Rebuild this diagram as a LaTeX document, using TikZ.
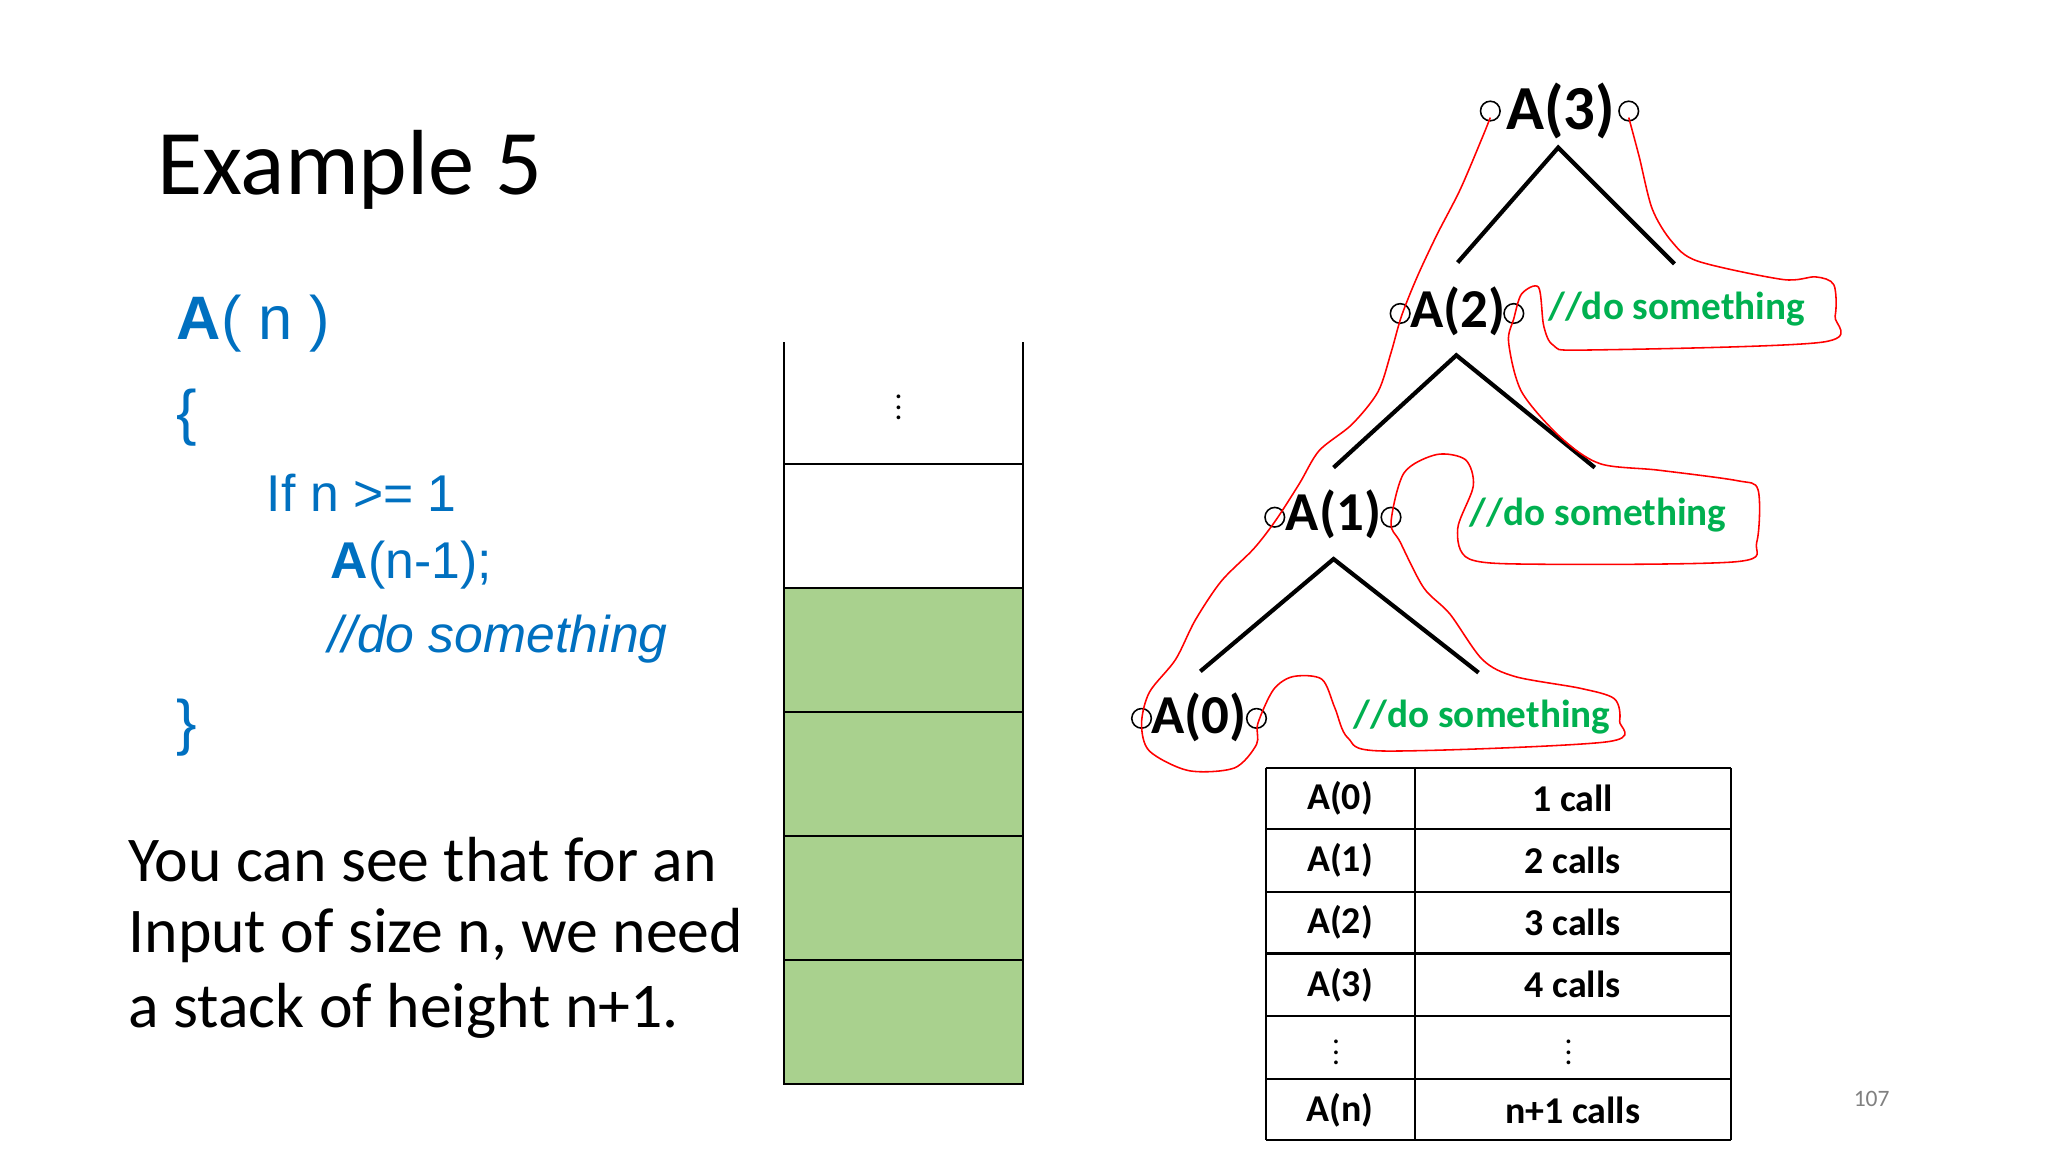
\documentclass[tikz,border=0pt]{standalone}
\usepackage{fontspec}
\setmainfont{Carlito}
\newfontfamily\arialf{Liberation Sans}
\definecolor{codeblue}{RGB}{0,112,192}
\definecolor{dogreen}{RGB}{0,176,80}
\definecolor{stackgreen}{RGB}{169,209,142}
\begin{document}
\begin{tikzpicture}[x=0.5pt,y=-0.5pt,
  code/.style={anchor=west,inner sep=0pt,text=codeblue,font=\arialf\fontsize{19.8}{24}\selectfont},
  big/.style={font=\arialf\fontsize{23.5}{28}\selectfont},
  body/.style={anchor=west,inner sep=0pt,font=\fontsize{24.4}{29}\selectfont},
  tlab/.style={inner sep=0pt,font=\bfseries\fontsize{21}{25}\selectfont},
  dolab/.style={anchor=west,inner sep=0pt,text=dogreen,font=\bfseries\fontsize{15}{18}\selectfont},
  cell/.style={inner sep=0pt,font=\bfseries\fontsize{14.5}{17}\selectfont},
  port/.style={draw,circle,inner sep=0pt,minimum size=7.5pt,line width=0.6pt},
  branch/.style={line width=1.6pt},
  trace/.style={red,line width=0.6pt}]
\useasboundingbox (0,0) rectangle (1568,882);
\fill[white] (0,0) rectangle (1568,882);
\node[anchor=west,inner sep=0pt,font=\fontsize{35.4}{42}\selectfont] (title) at (120,130) {Example 5};
\node[code,big] (an) at (135,248) {\textbf{A}( n )};
\node[code,big] (ob) at (135,320) {\{};
\node[code] (if) at (204,377) {If n >= 1};
\node[code] (call) at (253,433) {\textbf{A}(n-1);};
\node[code] (do) at (251,489) {\itshape //do something};
\node[code,big] (cb) at (135,557) {\}};
\node[body] (l1) at (98,658) {You can see that for an};
\node[body] (l2) at (98,716) {Input of size n, we need};
\node[body] (l3) at (98,774) {a stack of height n+1.};
% stack
\fill[stackgreen] (600,450) rectangle (783,830);
\draw[line width=0.8pt] (600,262) -- (600,830) -- (783,830) -- (783,262);
\foreach \y in {355,450,545,640,735} \draw[line width=0.8pt] (600,\y) -- (783,\y);
\node[inner sep=0pt,font=\fontsize{12}{14}\selectfont] (sd) at (688,306) {$\vdots$};
% table
\foreach \y in {588,635,683,730,778,826,873} \draw[line width=0.8pt] (969,\y) -- (1325,\y);
\foreach \x in {969,1083,1325} \draw[line width=0.8pt] (\x,588) -- (\x,873);
\node[cell] (t1a) at (1026,611) {A(0)}; \node[cell] (t1b) at (1204,611) {1 call};
\node[cell] (t2a) at (1026,659) {A(1)}; \node[cell] (t2b) at (1204,659) {2 calls};
\node[cell] (t3a) at (1026,706) {A(2)}; \node[cell] (t3b) at (1204,706) {3 calls};
\node[cell] (t4a) at (1026,754) {A(3)}; \node[cell] (t4b) at (1204,754) {4 calls};
\node[cell,font=\fontsize{12}{14}\selectfont] (t5a) at (1023,800) {$\vdots$}; \node[cell,font=\fontsize{12}{14}\selectfont] (t5b) at (1201,800) {$\vdots$};
\node[cell] (t6a) at (1026,850) {A(n)}; \node[cell] (t6b) at (1204,850) {n+1 calls};
\node[inner sep=0pt,text=gray,font=\fontsize{9}{11}\selectfont] (pg) at (1433,841) {107};
% tree
\node[tlab,font=\bfseries\fontsize{24}{28}\selectfont] (a3) at (1195,85) {A(3)};
\node[tlab] (a2) at (1116,238) {A(2)};
\node[tlab] (a1) at (1021,394) {A(1)};
\node[tlab] (a0) at (918,549) {A(0)};
\node[port] (p3l) at (1141,85) {}; \node[port] (p3r) at (1247,85) {};
\node[port] (p2l) at (1072,240) {}; \node[port] (p2r) at (1159,240) {};
\node[port] (p1l) at (976,396) {}; \node[port] (p1r) at (1065,396) {};
\node[port] (p0l) at (874,550) {}; \node[port] (p0r) at (962,550) {};
\coordinate (b3) at (1193,113); \coordinate (b2) at (1115,272); \coordinate (b1) at (1021,428);
\coordinate (e3l) at (1116,201); \coordinate (e3r) at (1282,202);
\coordinate (e2l) at (1021,358); \coordinate (e2r) at (1221,358);
\coordinate (e1l) at (919,514); \coordinate (e1r) at (1132,515);
\draw[branch] (e3l) -- (b3) -- (e3r);
\draw[branch] (e2l) -- (b2) -- (e2r);
\draw[branch] (e1l) -- (b1) -- (e1r);
\node[dolab] (d2) at (1185,237) {//do something};
\node[dolab] (d1) at (1125,394) {//do something};
\node[dolab] (d0) at (1036,549) {//do something};
% red trace
\draw[trace] plot[smooth,tension=0.5] coordinates {
(1141,90) (1135,105) (1118,145) (1100,180) (1085,212) (1073,242)
(1065,270) (1055,300) (1035,325) (1010,345) (995,370) (977,398)
(960,420) (935,445) (915,475) (900,505) (880,530) (874,554)
(880,575) (910,590) (945,588) (962,570) (963,554)
(975,528) (990,518) (1012,520) (1022,542) (1032,565) (1060,575)
(1230,568) (1240,552) (1236,535) (1210,527) (1160,518) (1135,505)
(1110,470) (1090,450) (1072,415) (1065,400)
(1075,362) (1100,348) (1122,352) (1128,372) (1116,405) (1125,428)
(1180,432) (1330,430) (1345,415) (1346,375) (1330,368) (1270,360)
(1225,355) (1195,335) (1165,300) (1155,262) (1159,244)
(1165,225) (1178,220) (1182,250) (1190,265) (1215,268) (1395,262)
(1405,242) (1404,218) (1390,212) (1365,214) (1300,200) (1280,185)
(1265,160) (1255,120) (1247,90)};
\end{tikzpicture}
\end{document}
